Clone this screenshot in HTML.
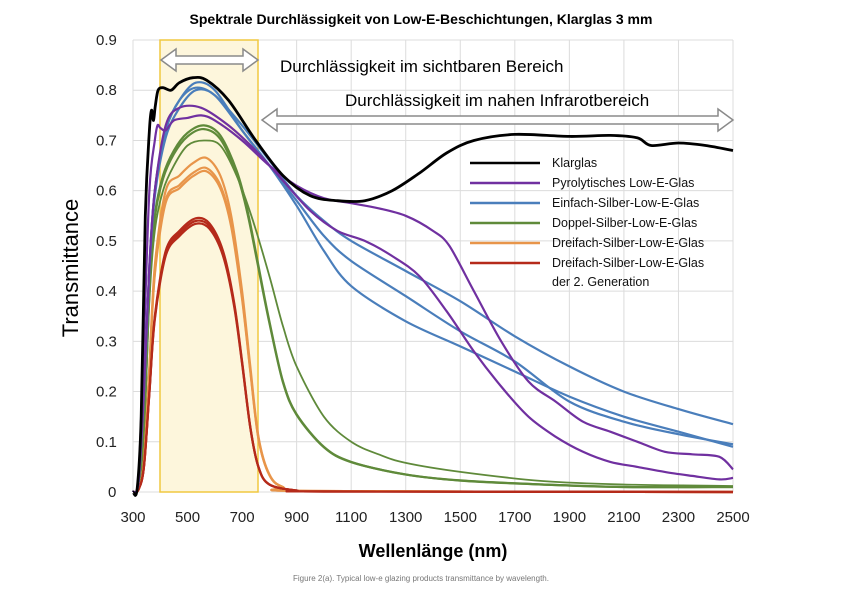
<!DOCTYPE html>
<html><head><meta charset="utf-8"><style>
body{margin:0;background:#fff;}
svg{display:block;font-family:"Liberation Sans",sans-serif;}
</style></head><body>
<svg id="s" width="842" height="595" viewBox="0 0 842 595" xmlns="http://www.w3.org/2000/svg">
<rect width="842" height="595" fill="#fff"/>
<text x="421" y="24" text-anchor="middle" font-size="14" font-weight="bold">Spektrale Durchlässigkeit von Low-E-Beschichtungen, Klarglas 3 mm</text>
<g id="grid" stroke="#dcdcdc" stroke-width="1"></g>
<rect x="160" y="40" width="98" height="452" fill="#fdf6dc" stroke="#f0c840" stroke-width="1.5"/>
<g id="curves" fill="none" stroke-width="2.2" stroke-linejoin="round"></g>
<g font-size="15" fill="#222" id="ylab"></g>
<g font-size="15" fill="#222" id="xlab" text-anchor="middle"></g>
<text transform="translate(78,268) rotate(-90)" text-anchor="middle" font-size="22">Transmittance</text>
<text x="433" y="557" text-anchor="middle" font-size="18" font-weight="bold">Wellenlänge (nm)</text>
<text x="421" y="581" text-anchor="middle" font-size="8" fill="#777">Figure 2(a). Typical low-e glazing products transmittance by wavelength.</text>
<polygon points="161,60 176,49 176,56 243,56 243,49 258,60 243,71 243,64 176,64 176,71" fill="#fff" stroke="#8a8a8a" stroke-width="1.5"/>
<polygon points="262,120 277,109 277,116 718,116 718,109 733,120 718,131 718,124 277,124 277,131" fill="#fff" stroke="#8a8a8a" stroke-width="1.5"/>
<text x="280" y="72" font-size="17">Durchlässigkeit im sichtbaren Bereich</text>
<text x="345" y="106" font-size="17">Durchlässigkeit im nahen Infrarotbereich</text>
<g font-size="12.5" fill="#111" stroke-width="2.5">
<line x1="470" y1="163" x2="540" y2="163" stroke="#000"/><text x="552" y="167">Klarglas</text>
<line x1="470" y1="183" x2="540" y2="183" stroke="#7030a0"/><text x="552" y="187">Pyrolytisches Low-E-Glas</text>
<line x1="470" y1="203" x2="540" y2="203" stroke="#4a7ebb"/><text x="552" y="207">Einfach-Silber-Low-E-Glas</text>
<line x1="470" y1="223" x2="540" y2="223" stroke="#5f8a3a"/><text x="552" y="227">Doppel-Silber-Low-E-Glas</text>
<line x1="470" y1="243" x2="540" y2="243" stroke="#e8954a"/><text x="552" y="247">Dreifach-Silber-Low-E-Glas</text>
<line x1="470" y1="263" x2="540" y2="263" stroke="#b52a1a"/><text x="552" y="267">Dreifach-Silber-Low-E-Glas</text>
<text x="552" y="286">der 2. Generation</text>
</g>
</svg>
<script>
var X=function(n){return 133+(n-300)*600/2200;},Y=function(t){return 492-t*502.2;};
var ns="http://www.w3.org/2000/svg";
function el(p,t,a,txt){var e=document.createElementNS(ns,t);for(var k in a)e.setAttribute(k,a[k]);if(txt!==undefined)e.textContent=txt;document.getElementById(p).appendChild(e);return e;}
for(var i=0;i<=9;i++){el('grid','line',{x1:133,x2:733,y1:Y(i/10),y2:Y(i/10)});el('ylab','text',{x:i==0?108:96,y:Y(i/10)+5},i==0?'0':'0.'+i);}
for(var n=300;n<=2500;n+=200){el('grid','line',{x1:X(n),x2:X(n),y1:40,y2:492});el('xlab','text',{x:X(n),y:522},''+n);}
function path(pts,c,w){var P=pts.map(function(p){return [X(p[0]),Y(p[1])];});
var d='M'+P[0][0].toFixed(1)+','+P[0][1].toFixed(1);
for(var i=0;i<P.length-1;i++){var p0=P[i-1]||P[i],p1=P[i],p2=P[i+1],p3=P[i+2]||p2;var t=0.16;
var c1=[p1[0]+(p2[0]-p0[0])*t,p1[1]+(p2[1]-p0[1])*t],c2=[p2[0]-(p3[0]-p1[0])*t,p2[1]-(p3[1]-p1[1])*t];
d+='C'+c1[0].toFixed(1)+','+c1[1].toFixed(1)+' '+c2[0].toFixed(1)+','+c2[1].toFixed(1)+' '+p2[0].toFixed(1)+','+p2[1].toFixed(1);}
el('curves','path',{d:d,stroke:c,'stroke-width':w||2.2});}
function sc(pts,f){return pts.map(function(p){return [p[0],p[1]*f];});}
var green=[[300,0],[320,0.01],[340,0.12],[360,0.4],[380,0.55],[410,0.63],[450,0.68],[500,0.715],[560,0.73],[620,0.71],[680,0.64],[720,0.56],[760,0.45],[800,0.34],[850,0.22],[900,0.155],[1000,0.09],[1100,0.06],[1300,0.035],[1500,0.023],[1800,0.015],[2100,0.01],[2500,0.01]];
var green2=[[300,0],[320,0.01],[340,0.12],[360,0.38],[380,0.52],[410,0.6],[450,0.65],[500,0.69],[560,0.70],[620,0.69],[680,0.63],[740,0.54],[800,0.43],[850,0.33],[900,0.25],[1000,0.15],[1100,0.1],[1200,0.075],[1300,0.058],[1500,0.04],[1800,0.022],[2100,0.015],[2500,0.012]];
path(green,'#5f8a3a');path(sc(green,0.99),'#5f8a3a');path(green2,'#5f8a3a',1.8);
var or=[[300,0],[320,0.005],[340,0.06],[360,0.25],[380,0.45],[420,0.6],[470,0.63],[520,0.655],[570,0.665],[620,0.63],[660,0.55],[700,0.4],[730,0.25],[760,0.11],[800,0.035],[850,0.01],[950,0.002],[2500,0]];
path(or,'#e8954a');path(sc(or,0.97),'#e8954a');path(sc(or,0.96),'#e8954a');
var rd=[[300,0],[320,0.005],[340,0.05],[360,0.2],[380,0.35],[420,0.48],[470,0.52],[530,0.545],[580,0.535],[630,0.48],[670,0.38],[700,0.26],[730,0.13],[760,0.05],[800,0.015],[900,0.003],[1000,0.001],[2500,0]];
path(rd,'#b52a1a');path(sc(rd,0.99),'#b52a1a');path(sc(rd,0.98),'#b52a1a');
var bs=[[300,0],[320,0.02],[340,0.2],[360,0.45],[380,0.6],[420,0.72],[470,0.78]];
path(bs.concat([[530,0.805],[600,0.79],[700,0.73],[800,0.66],[900,0.59],[1000,0.54],[1100,0.50],[1300,0.44],[1500,0.38],[1700,0.31],[1900,0.25],[2100,0.2],[2300,0.165],[2500,0.135]]),'#4a7ebb');
path(bs.concat([[530,0.815],[600,0.8],[700,0.72],[800,0.65],[900,0.58],[1000,0.51],[1100,0.46],[1300,0.39],[1500,0.32],[1700,0.26],[1900,0.18],[2100,0.14],[2300,0.115],[2500,0.095]]),'#4a7ebb');
path(sc(bs,0.98).concat([[530,0.80],[600,0.79],[700,0.72],[800,0.65],[900,0.57],[1000,0.48],[1100,0.41],[1300,0.34],[1500,0.29],[1700,0.24],[1900,0.19],[2100,0.15],[2300,0.12],[2500,0.09]]),'#4a7ebb');
path([[300,0],[320,0.03],[340,0.3],[360,0.6],[380,0.7],[390,0.73],[400,0.725],[420,0.72],[450,0.74],[500,0.745],[550,0.75],[600,0.74],[700,0.70],[800,0.65],[900,0.61],[1000,0.585],[1100,0.575],[1200,0.565],[1300,0.55],[1400,0.52],[1460,0.49],[1550,0.40],[1650,0.30],[1750,0.22],[1850,0.18],[1950,0.14],[2050,0.12],[2150,0.10],[2250,0.08],[2350,0.075],[2450,0.07],[2500,0.045]],'#7030a0');
path([[300,0],[320,0.02],[340,0.2],[360,0.45],[380,0.6],[420,0.73],[470,0.765],[550,0.765],[650,0.73],[750,0.68],[850,0.62],[950,0.56],[1050,0.52],[1150,0.50],[1250,0.47],[1350,0.43],[1450,0.36],[1550,0.28],[1650,0.21],[1750,0.15],[1850,0.11],[1950,0.08],[2050,0.06],[2150,0.05],[2250,0.04],[2350,0.032],[2450,0.025],[2500,0.028]],'#7030a0');
path([[300,0],[315,0.005],[330,0.15],[345,0.55],[360,0.72],[368,0.76],[375,0.74],[382,0.77],[392,0.8],[410,0.805],[440,0.80],[470,0.815],[520,0.825],[570,0.82],[650,0.78],[750,0.70],[850,0.63],[950,0.59],[1050,0.58],[1150,0.58],[1250,0.60],[1350,0.635],[1450,0.675],[1550,0.70],[1700,0.712],[1900,0.708],[2050,0.71],[2150,0.705],[2200,0.69],[2300,0.695],[2400,0.69],[2500,0.68]],'#000',2.8);
</script>
</body></html>
